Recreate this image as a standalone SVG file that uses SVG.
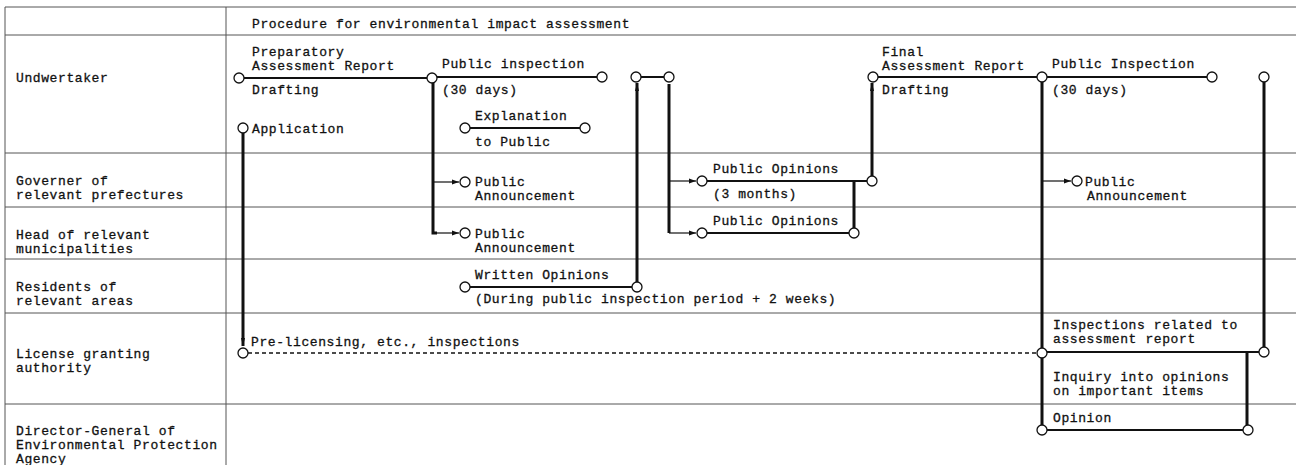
<svg xmlns="http://www.w3.org/2000/svg" width="1296" height="465" viewBox="0 0 1296 465">
<defs>
<style>
text{font-family:"Liberation Mono","DejaVu Sans Mono",monospace;font-size:13px;letter-spacing:0.6px;fill:#111;stroke:#111;stroke-width:0.3px;}
.grid{stroke:#555;stroke-width:1;fill:none;}
.c{fill:#fff;stroke:#111;stroke-width:1.3;}
.h{stroke:#111;stroke-width:2;fill:none;}
.v{stroke:#111;stroke-width:3;fill:none;}
.t{stroke:#111;stroke-width:1.2;fill:none;}
.d{stroke:#111;stroke-width:1.5;fill:none;stroke-dasharray:4 3;}
</style>
<marker id="ah" markerUnits="userSpaceOnUse" markerWidth="7" markerHeight="6" refX="7" refY="3" orient="auto">
<path d="M0,0.5 L7,3 L0,5.5 z" fill="#111"/>
</marker>
<marker id="tip" markerUnits="userSpaceOnUse" markerWidth="8" markerHeight="4" refX="8" refY="2" orient="auto">
<path d="M0,0 L8,2 L0,4 z" fill="#111"/>
</marker>
</defs>
<rect width="1296" height="465" fill="#fff"/>

<g id="table">
<line class="grid" x1="5" y1="7" x2="1296" y2="7"/>
<line class="grid" x1="5" y1="35" x2="1296" y2="35"/>
<line class="grid" x1="5" y1="153" x2="1296" y2="153"/>
<line class="grid" x1="5" y1="207" x2="1296" y2="207"/>
<line class="grid" x1="5" y1="259" x2="1296" y2="259"/>
<line class="grid" x1="5" y1="313" x2="1296" y2="313"/>
<line class="grid" x1="5" y1="404" x2="1296" y2="404"/>
<line class="grid" x1="5" y1="7" x2="5" y2="465"/>
<line class="grid" x1="226" y1="7" x2="226" y2="465"/>
<text x="252" y="28">Procedure for environmental impact assessment</text>
</g>

<g id="lane-undertaker"><text x="16" y="82">Undwertaker</text></g>
<g id="lane-governor"><text x="16" y="185">Governer of</text><text x="16" y="199">relevant prefectures</text></g>
<g id="lane-head"><text x="16" y="239">Head of relevant</text><text x="16" y="253">municipalities</text></g>
<g id="lane-residents"><text x="16" y="291">Residents of</text><text x="16" y="305">relevant areas</text></g>
<g id="lane-license"><text x="16" y="358">License granting</text><text x="16" y="372">authority</text></g>
<g id="lane-director"><text x="16" y="435">Director-General of</text><text x="16" y="449">Environmental Protection</text><text x="16" y="463">Agency</text></g>

<g id="connectors">
<line class="v" x1="243" y1="133" x2="243" y2="346" marker-end="url(#tip)"/>
<polyline class="v" points="433,82 433,233 437,233"/>
<line class="t" x1="433" y1="182" x2="459" y2="182" marker-end="url(#ah)"/>
<line class="t" x1="436" y1="233" x2="459" y2="233" marker-end="url(#ah)"/>
<line class="v" x1="637" y1="282" x2="637" y2="83" marker-end="url(#tip)"/>
<polyline class="v" points="669,84 669,233"/>
<line class="t" x1="669" y1="181" x2="696" y2="181" marker-end="url(#ah)"/>
<line class="t" x1="669" y1="233" x2="696" y2="233" marker-end="url(#ah)"/>
<line class="v" x1="854" y1="181" x2="854" y2="228"/>
<line class="v" x1="872" y1="176" x2="872" y2="83" marker-end="url(#tip)"/>
<line class="v" x1="1042" y1="82" x2="1042" y2="425"/>
<line class="t" x1="1042" y1="181" x2="1071" y2="181" marker-end="url(#ah)"/>
<line class="v" x1="1264" y1="82" x2="1264" y2="347"/>
<line class="v" x1="1247" y1="352" x2="1247" y2="425"/>
</g>

<g id="n-prep-report">
<line class="h" x1="244" y1="78" x2="427" y2="78"/>
<circle class="c" cx="239" cy="78" r="5"/>
<circle class="c" cx="432" cy="78" r="5"/>
<text x="252" y="56">Preparatory</text>
<text x="252" y="70">Assessment Report</text>
<text x="252" y="94">Drafting</text>
</g>
<g id="n-public-inspection">
<line class="h" x1="437" y1="77" x2="597" y2="77"/>
<circle class="c" cx="602" cy="77" r="5"/>
<text x="442" y="68">Public inspection</text>
<text x="442" y="94">(30 days)</text>
</g>
<g id="n-explanation">
<line class="h" x1="470" y1="128" x2="580" y2="128"/>
<circle class="c" cx="465" cy="128" r="5"/>
<circle class="c" cx="585" cy="128" r="5"/>
<text x="475" y="120">Explanation</text>
<text x="475" y="146">to Public</text>
</g>
<g id="n-collect">
<line class="h" x1="641" y1="77" x2="664" y2="77"/>
<circle class="c" cx="636" cy="77" r="5"/>
<circle class="c" cx="669" cy="77" r="5"/>
</g>
<g id="n-application">
<circle class="c" cx="243" cy="128" r="5"/>
<text x="252" y="133">Application</text>
</g>
<g id="n-final-report">
<line class="h" x1="878" y1="77" x2="1037" y2="77"/>
<circle class="c" cx="873" cy="77" r="5"/>
<circle class="c" cx="1042" cy="77" r="5"/>
<text x="882" y="56">Final</text>
<text x="882" y="70">Assessment Report</text>
<text x="882" y="94">Drafting</text>
</g>
<g id="n-public-inspection-2">
<line class="h" x1="1047" y1="77" x2="1207" y2="77"/>
<circle class="c" cx="1212" cy="77" r="5"/>
<text x="1052" y="68">Public Inspection</text>
<text x="1052" y="94">(30 days)</text>
</g>
<g id="n-end-top"><circle class="c" cx="1264" cy="77" r="5"/></g>

<g id="n-announce-gov-1">
<circle class="c" cx="465" cy="182" r="5"/>
<text x="475" y="186">Public</text>
<text x="475" y="200">Announcement</text>
</g>
<g id="n-announce-head-1">
<circle class="c" cx="465" cy="233" r="5"/>
<text x="475" y="238">Public</text>
<text x="475" y="252">Announcement</text>
</g>
<g id="n-opinions-gov">
<line class="h" x1="707" y1="181" x2="867" y2="181"/>
<circle class="c" cx="702" cy="181" r="5"/>
<circle class="c" cx="872" cy="181" r="5"/>
<text x="713" y="173">Public Opinions</text>
<text x="713" y="198">(3 months)</text>
</g>
<g id="n-opinions-head">
<line class="h" x1="707" y1="233" x2="849" y2="233"/>
<circle class="c" cx="702" cy="233" r="5"/>
<circle class="c" cx="854" cy="233" r="5"/>
<text x="713" y="225">Public Opinions</text>
</g>
<g id="n-announce-gov-2">
<circle class="c" cx="1077" cy="181" r="5"/>
<text x="1085" y="186">Public</text>
<text x="1087" y="200">Announcement</text>
</g>
<g id="n-written-opinions">
<line class="h" x1="470" y1="287" x2="632" y2="287"/>
<circle class="c" cx="465" cy="287" r="5"/>
<circle class="c" cx="637" cy="287" r="5"/>
<text x="475" y="279">Written Opinions</text>
<text x="475" y="303">(During public inspection period + 2 weeks)</text>
</g>
<g id="n-prelicensing">
<line class="d" x1="248" y1="353" x2="1037" y2="353"/>
<circle class="c" cx="243" cy="353" r="5"/>
<circle class="c" cx="1042" cy="353" r="5"/>
<text x="251" y="346">Pre-licensing, etc., inspections</text>
</g>
<g id="n-inspections-report">
<line class="h" x1="1047" y1="352" x2="1259" y2="352"/>
<circle class="c" cx="1264" cy="352" r="5"/>
<text x="1053" y="329">Inspections related to</text>
<text x="1053" y="343">assessment report</text>
<text x="1053" y="381">Inquiry into opinions</text>
<text x="1053" y="395">on important items</text>
</g>
<g id="n-opinion">
<line class="h" x1="1047" y1="430" x2="1243" y2="430"/>
<circle class="c" cx="1042" cy="430" r="5"/>
<circle class="c" cx="1248" cy="430" r="5"/>
<text x="1053" y="422">Opinion</text>
</g>
</svg>
